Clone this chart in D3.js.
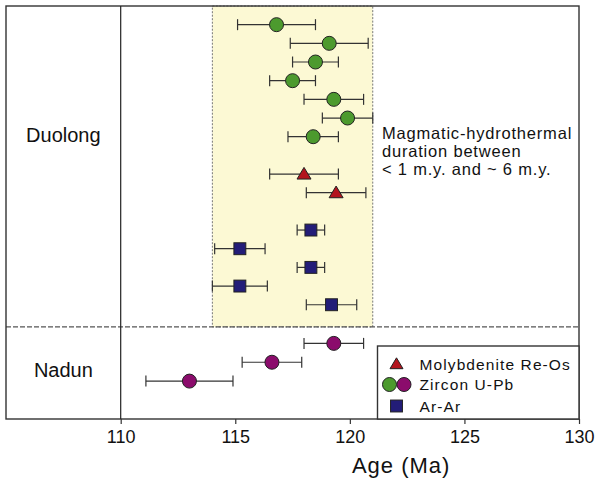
<!DOCTYPE html>
<html>
<head>
<meta charset="utf-8">
<script src="https://cdn.jsdelivr.net/npm/d3@7"></script>
<style>
  html, body { margin: 0; padding: 0; background: #fff; }
  svg { display: block; font-family: "Liberation Sans", Arial, Helvetica, sans-serif; }
</style>
</head>
<body>
<svg id="chart" width="598" height="481"></svg>
<script>
// Geochronology of the Duolong and Nadun deposits (ages in Ma, ±2σ)
const methods = ["zircon","zircon","zircon","zircon","zircon","zircon","zircon",
                 "reos","reos",
                 "arar","arar","arar","arar","arar",
                 "zirconN","zirconN","zirconN"];
const ages   = [116.8, 119.1, 118.5, 117.5, 119.3, 119.9, 118.4,
                118.0, 119.4,
                118.3, 115.2, 118.3, 115.2, 119.2,
                119.3, 116.6, 113.0];
const errors = [1.7, 1.7, 1.0, 1.0, 1.3, 1.1, 1.1,
                1.5, 1.3,
                0.6, 1.1, 0.6, 1.2, 1.1,
                1.3, 1.3, 1.9];
const rows   = [0, 1, 2, 3, 4, 5, 6,
                8, 9,
                11, 12, 13, 14, 15,
                17.07, 18.08, 19.09];

const xTicks = [110, 115, 120, 125, 130];
const durationWindow = [114, 121];       // shaded magmatic-hydrothermal window
const groupSplit = 16.19;                // row position of the Duolong / Nadun divider
const groups = [{name: "Duolong", row: 5.9}, {name: "Nadun", row: 18.5}];
const noteLines = ["Magmatic-hydrothermal", "duration between", "< 1 m.y. and ~ 6 m.y."];
const legendItems = [
  {label: "Molybdenite Re-Os", kinds: ["reos"]},
  {label: "Zircon U-Pb", kinds: ["zircon", "zirconN"]},
  {label: "Ar-Ar", kinds: ["arar"]}
];

const fills = {zircon: "#4c9a2e", zirconN: "#8b0c6c", reos: "#b3141e", arar: "#231d78"};
const frameColor = "#333";

const svg = d3.select("#chart");
const fLeft = 6, fRight = 579, fTop = 6, fBottom = 419;

const x = d3.scaleLinear().domain([110, 130]).range([120.7, 579]);
const y = d3.scaleLinear().domain([-1, 21.12]).range([fTop, fBottom]);

// shaded duration window
svg.append("rect")
  .attr("x", x(durationWindow[0])).attr("y", fTop)
  .attr("width", x(durationWindow[1]) - x(durationWindow[0]))
  .attr("height", y(groupSplit) - fTop)
  .attr("fill", "#fcf9d4")
  .attr("stroke", "#777").attr("stroke-width", 1)
  .attr("stroke-dasharray", "2,1.5");

// divider between groups
svg.append("line")
  .attr("x1", fLeft).attr("x2", fRight)
  .attr("y1", y(groupSplit)).attr("y2", y(groupSplit))
  .attr("stroke", "#555").attr("stroke-width", 1.2)
  .attr("stroke-dasharray", "5,2");

// frame and group-label column separator
svg.append("rect")
  .attr("x", fLeft).attr("y", fTop)
  .attr("width", fRight - fLeft).attr("height", fBottom - fTop)
  .attr("fill", "none").attr("stroke", frameColor).attr("stroke-width", 1.4);
svg.append("line")
  .attr("x1", x(110)).attr("x2", x(110))
  .attr("y1", fTop).attr("y2", fBottom)
  .attr("stroke", "#222").attr("stroke-width", 1.2);

// x axis
const axis = svg.append("g")
  .attr("transform", `translate(0,${fBottom})`)
  .call(d3.axisBottom(x).tickValues(xTicks).tickSize(5).tickPadding(6).tickFormat(d3.format("d")));
axis.select(".domain").remove();
axis.selectAll(".tick line").attr("stroke", frameColor).attr("stroke-width", 1.2);
axis.selectAll(".tick text")
  .attr("font-size", 18).attr("fill", "#111")
  .attr("font-family", "Liberation Sans, Arial, sans-serif");

svg.append("text")
  .attr("x", (x(120) + x(125)) / 2 - 6).attr("y", 473)
  .attr("text-anchor", "middle")
  .attr("font-size", 22).attr("letter-spacing", 1).attr("fill", "#111")
  .text("Age (Ma)");

// group labels
svg.selectAll(".group")
  .data(groups).join("text")
  .attr("x", (fLeft + x(110)) / 2)
  .attr("y", d => y(d.row))
  .attr("text-anchor", "middle")
  .attr("dominant-baseline", "central")
  .attr("font-size", 20).attr("fill", "#111")
  .text(d => d.name);

// annotation
svg.append("text")
  .attr("x", 382).attr("y", 139)
  .attr("font-size", 16.5).attr("letter-spacing", 0.8).attr("fill", "#111")
  .selectAll("tspan").data(noteLines).join("tspan")
  .attr("x", 382).attr("dy", (d, i) => i === 0 ? 0 : 18)
  .text(d => d);

// markers
const shape = (sel, kind, size) => {
  if (kind === "reos") {
    const h = size;
    sel.append("path")
      .attr("d", `M0,${-h * 0.95}L${h},${h * 0.72}L${-h},${h * 0.72}Z`)
      .attr("fill", fills[kind]).attr("stroke", "#222").attr("stroke-width", 1);
  } else if (kind === "arar") {
    const s = size * 1.7;
    sel.append("rect")
      .attr("x", -s / 2).attr("y", -s / 2).attr("width", s).attr("height", s)
      .attr("fill", fills[kind]).attr("stroke", "#222").attr("stroke-width", 1);
  } else {
    sel.append("circle").attr("r", size)
      .attr("fill", fills[kind]).attr("stroke", "#222").attr("stroke-width", 1);
  }
};

const data = ages.map((a, i) => ({age: a, err: errors[i], row: rows[i], kind: methods[i]}));
const pts = svg.selectAll(".pt").data(data).join("g")
  .attr("class", "pt")
  .attr("transform", d => `translate(0,${y(d.row)})`);

pts.append("line")
  .attr("x1", d => x(d.age - d.err)).attr("x2", d => x(d.age + d.err))
  .attr("stroke", "#333").attr("stroke-width", 1.2);
pts.append("line")
  .attr("x1", d => x(d.age - d.err)).attr("x2", d => x(d.age - d.err))
  .attr("y1", -5.5).attr("y2", 5.5)
  .attr("stroke", "#333").attr("stroke-width", 1.2);
pts.append("line")
  .attr("x1", d => x(d.age + d.err)).attr("x2", d => x(d.age + d.err))
  .attr("y1", -5.5).attr("y2", 5.5)
  .attr("stroke", "#333").attr("stroke-width", 1.2);
pts.each(function (d) {
  const g = d3.select(this).append("g").attr("transform", `translate(${x(d.age)},0)`);
  shape(g, d.kind, 7);
});

// legend
const lg = svg.append("g");
lg.append("rect")
  .attr("x", 377.5).attr("y", 346)
  .attr("width", fRight - 377.5).attr("height", fBottom - 346)
  .attr("fill", "#fff").attr("stroke", frameColor).attr("stroke-width", 1.4);
const legendY = [364, 384.5, 406];
legendItems.forEach((item, i) => {
  const offsets = item.kinds.length === 2 ? [-7, 7.5] : [0];
  item.kinds.forEach((k, j) => {
    const g = lg.append("g").attr("transform", `translate(${396.5 + offsets[j]},${legendY[i]})`);
    shape(g, k, k === "reos" ? 6.5 : 7);
  });
  lg.append("text")
    .attr("x", 419.5).attr("y", legendY[i])
    .attr("dominant-baseline", "central")
    .attr("font-size", 15.5).attr("letter-spacing", 1.1).attr("fill", "#111")
    .text(item.label);
});
</script>
</body>
</html>
